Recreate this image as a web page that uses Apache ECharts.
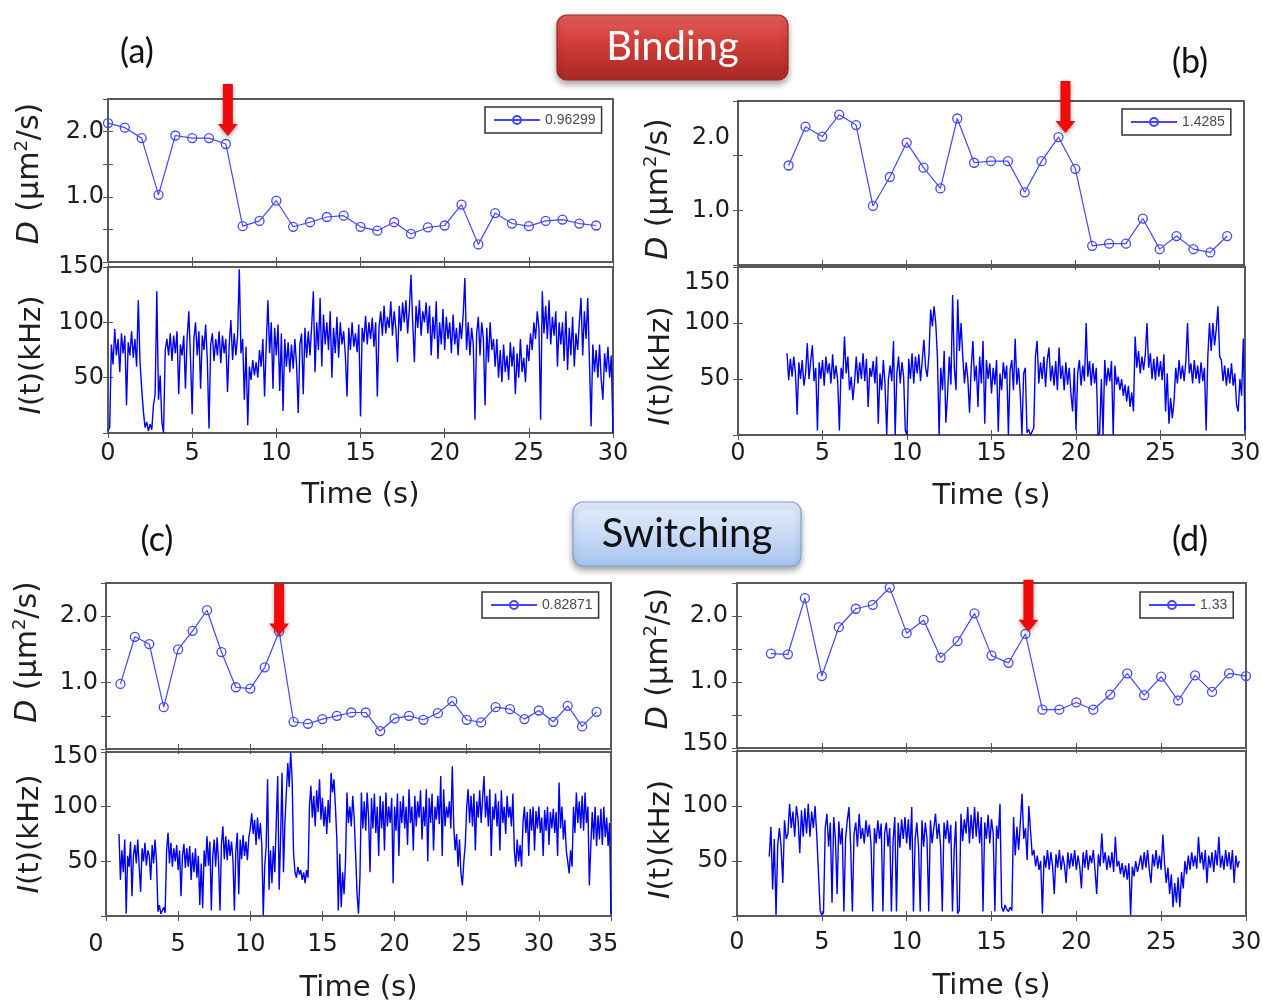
<!DOCTYPE html>
<html><head><meta charset="utf-8">
<script src="https://cdn.jsdelivr.net/npm/echarts@6/dist/echarts.min.js"></script>
<style>html,body{margin:0;padding:0;background:#fff}#c{width:1263px;height:1006px}</style>
</head><body><div id="c"></div>
<script>
// ---------- DATA ----------
// Diffusion coefficient D (um^2/s) per second
const dTimeA = [0,1,2,3,4,5,6,7,8,9,10,11,12,13,14,15,16,17,18,19,20,21,22,23,24,25,26,27,28,29];
const dValA = [2.13,2.06,1.90,1.03,1.94,1.90,1.90,1.81,0.55,0.63,0.94,0.54,0.61,0.69,0.71,0.54,0.48,0.61,0.43,0.53,0.56,0.88,0.27,0.75,0.59,0.55,0.63,0.65,0.59,0.56];
const dTimeB = [3,4,5,6,7,8,9,10,11,12,13,14,15,16,17,18,19,20,21,22,23,24,25,26,27,28,29];
const dValB = [1.82,2.53,2.35,2.75,2.56,1.08,1.61,2.24,1.78,1.40,2.68,1.87,1.90,1.90,1.33,1.90,2.34,1.76,0.35,0.39,0.39,0.85,0.29,0.53,0.29,0.23,0.53];
const dTimeC = [1,2,3,4,5,6,7,8,9,10,11,12,13,14,15,16,17,18,19,20,21,22,23,24,25,26,27,28,29,30,31,32,33,34];
const dValC = [0.98,1.69,1.58,0.63,1.50,1.78,2.09,1.46,0.93,0.91,1.23,1.77,0.41,0.38,0.45,0.50,0.55,0.55,0.27,0.46,0.50,0.44,0.54,0.72,0.44,0.40,0.63,0.60,0.45,0.58,0.41,0.65,0.34,0.56];
const dTimeD = [2,3,4,5,6,7,8,9,10,11,12,13,14,15,16,17,18,19,20,21,22,23,24,25,26,27,28,29,30];
const dValD = [1.43,1.42,2.27,1.09,1.83,2.11,2.17,2.43,1.74,1.94,1.37,1.62,2.04,1.40,1.29,1.73,0.58,0.58,0.69,0.58,0.81,1.13,0.80,1.08,0.72,1.10,0.85,1.13,1.09];

// legend labels (mean D)
const legendA = '0.96299', legendB = '1.4285', legendC = '0.82871', legendD = '1.33';
// time of the red arrow (s)
const arrowTimeA = 7, arrowTimeB = 19, arrowTimeC = 12, arrowTimeD = 17;

// Intensity traces I(t) in kHz, sampled every 0.1 s from the given start time
const iStartA = 0.0, iStartB = 2.9, iStartC = 0.9, iStartD = 1.9, iStep = 0.1;
const iValA = [2,5,80,62,94,70,85,55,90,72,
88,25,82,70,92,68,85,60,120,65,
40,20,5,10,2,8,3,25,35,128,
30,52,10,0,75,85,70,90,65,88,
72,92,35,80,70,88,40,85,110,68,
17,85,100,70,92,40,88,75,98,66,
4,80,90,65,85,70,92,63,88,72,
85,37,80,102,66,90,70,88,148,72,
85,30,78,7,60,48,66,52,64,50,
75,60,85,33,80,120,72,100,40,95,
70,98,38,90,20,85,60,82,55,80,
58,85,62,18,80,90,35,95,68,92,
70,97,128,55,100,75,122,60,107,80,
100,75,110,50,95,72,105,68,100,80,
92,70,33,95,75,100,78,90,73,98,
15,95,82,106,80,100,85,104,78,100,
33,95,110,88,115,90,105,95,119,88,
110,95,64,115,92,118,100,120,90,112,
143,100,64,115,95,120,88,110,100,118,
90,115,70,105,85,119,67,100,80,112,
75,105,85,100,72,107,80,95,70,100,
85,107,140,75,100,70,95,80,12,90,
105,70,100,85,25,95,64,100,75,85,
60,85,50,75,46,80,55,70,48,82,
60,78,35,72,50,85,55,68,46,80,
65,90,75,100,85,110,95,12,128,90,
115,85,120,80,105,88,110,60,100,80,
100,65,110,57,95,70,105,60,90,75,
100,122,70,110,85,122,65,6,80,55,
75,50,80,48,30,72,55,78,50,70,
0];
const iValB = [73,
49,68,52,70,55,18,65,50,67,44,
55,82,50,66,80,48,60,4,65,50,
67,44,70,55,64,46,72,50,62,48,
4,60,50,88,55,70,40,52,31,48,
70,46,65,50,73,48,68,25,60,52,
66,46,70,10,55,40,67,45,0,50,
62,48,84,0,55,70,46,65,52,4,
0,68,50,73,46,70,55,72,48,66,
85,60,52,72,112,97,115,100,70,0,
60,40,75,11,36,70,45,125,60,40,
121,75,100,70,46,65,50,20,60,84,
48,62,25,70,46,84,10,67,50,64,
37,60,45,67,3,55,40,65,50,62,
0,58,67,40,86,45,60,37,0,55,
60,2,5,0,3,6,70,84,46,65,
50,70,43,67,78,48,62,44,66,40,
78,50,62,40,65,45,60,37,21,60,
4,55,67,44,62,48,100,52,66,44,
64,46,60,0,2,50,0,67,44,60,
48,66,0,62,45,52,40,50,35,45,
30,44,25,38,21,88,60,75,55,70,
58,72,100,60,73,50,68,49,70,52,
66,49,72,21,55,10,33,15,30,60,
46,67,50,62,48,66,100,55,64,46,
67,50,62,46,65,48,60,4,70,100,
75,100,80,95,115,70,67,48,62,44,
60,46,64,44,55,27,21,50,35,86,
4];
const iValC = [75,
33,60,40,70,2,55,45,68,18,55,
65,48,70,45,22,62,50,67,46,60,
55,33,65,48,70,50,4,10,2,5,
8,3,60,76,48,67,45,62,50,65,
42,60,18,55,66,44,62,45,64,33,
58,40,62,35,55,10,48,7,60,45,
73,46,68,5,55,70,45,72,50,5,
65,82,52,73,51,70,55,68,51,5,
60,76,20,70,52,74,55,68,51,72,
80,94,75,88,65,90,70,85,64,1,
45,64,125,24,60,30,64,40,85,128,
24,70,131,40,85,113,140,118,150,125,
57,40,35,45,38,42,33,40,30,42,
35,100,119,90,110,82,115,95,125,88,
108,82,100,75,106,85,131,113,125,100,
70,5,57,8,40,20,50,113,85,100,
82,110,90,57,20,2,35,113,80,105,
78,113,90,40,108,80,112,76,100,55,
110,80,105,60,113,82,100,85,108,30,
100,78,112,55,105,85,110,80,100,65,
116,85,100,60,110,82,105,90,115,70,
100,82,116,50,108,85,112,60,100,88,
110,84,128,55,116,82,100,90,105,80,
137,82,60,75,45,70,39,28,50,65,
100,116,85,110,82,112,60,105,90,115,
85,108,128,90,110,82,116,55,100,88,
112,82,105,60,115,85,100,75,110,90,
100,82,112,60,45,70,50,65,45,85,
100,76,95,55,98,78,100,60,96,80,
100,76,90,55,97,78,100,65,95,80,
98,76,95,55,122,80,100,70,88,60,
50,39,60,45,100,76,113,85,105,80,
110,78,113,85,100,28,64,95,70,100,
64,92,70,98,65,100,72,90,64,85,
2];
const iValD = [54,
81,24,70,1,65,80,63,30,87,70,
75,102,80,95,72,100,88,57,96,72,
98,75,102,72,95,80,100,74,40,5,
1,3,80,93,63,85,12,90,70,20,
86,65,80,4,70,87,99,63,4,75,
85,63,93,70,80,66,87,72,83,65,
4,80,66,87,70,84,4,75,85,63,
80,4,68,90,4,85,62,88,70,90,
66,88,60,99,4,70,85,63,4,87,
63,85,70,4,87,66,80,93,70,84,
63,4,85,70,87,66,83,4,60,86,
2,5,93,68,88,75,99,66,92,70,
99,72,95,66,90,4,85,70,92,66,
88,75,4,82,70,102,8,4,10,6,
4,8,5,90,55,81,60,85,111,70,
80,51,100,78,55,60,45,55,42,50,
2,55,44,60,42,58,45,20,56,44,
60,42,55,46,30,58,43,57,45,60,
42,55,45,25,58,44,60,42,55,48,
60,42,20,56,45,75,48,58,42,55,
44,58,40,72,45,50,38,48,35,46,
33,48,1,45,36,50,40,47,55,42,
58,44,60,42,30,56,45,60,43,55,
42,74,48,30,44,20,38,8,30,12,
35,8,40,25,50,38,55,42,58,45,
55,43,72,48,58,42,60,30,55,44,
58,40,60,46,72,44,55,42,60,45,
58,42,60,30,55,44,50];

// axis ranges / tick labels
const xMaxes = [30, 30, 35, 30];
const dAxisMax = [2.5, 3, 2.5, 2.5];
const dAxisInterval = [0.5, 1, 0.5, 0.5];
const dTickLabels = ['1.0', '2.0'];
const iAxisMax = 150, iAxisInterval = 50;

// ---------- LAYOUT / STYLE ----------
const FONT = 'DejaVu Sans';
const TXT = '#1e1e1e';
const BLUE_D = '#4646ff';
const BLUE_I = '#0000f0';
const ARROW = 'path://M5,0 L15,0 L15,40 L20,40 L10,52 L0,40 L5,40 Z';

const panels = [
  { dT: dTimeA, dV: dValA, iT0: iStartA, iV: iValA, name: legendA, arrowT: arrowTimeA,
    gD: {left:108, top:99, width:505, height:163}, gI: {left:108, top:267, width:505, height:166},
    xLabelMargin: 9, xNameGap: 48, yLabelMargin: 4, yNameGap: 61,
    namePadD: [0,0,0,14], namePadI: [0,10,0,0],
    legend: {left:485, top:107}, arrowOff: [2, -34], d2Pad: null, i150Pad: null, xPad: {} },
  { dT: dTimeB, dV: dValB, iT0: iStartB, iV: iValB, name: legendB, arrowT: arrowTimeB,
    gD: {left:738, top:101, width:506, height:164}, gI: {left:738, top:267, width:507, height:168},
    xLabelMargin: 7, xNameGap: 47, yLabelMargin: 8, yNameGap: 62,
    namePadD: [0,12,0,0], namePadI: [0,30,0,0],
    legend: {left:1122, top:109}, arrowOff: [7, -30], d2Pad: [0,0,36,0], i150Pad: [32,0,0,0], xPad: {} },
  { dT: dTimeC, dV: dValC, iT0: iStartC, iV: iValC, name: legendC, arrowT: arrowTimeC,
    gD: {left:106, top:583, width:505, height:166}, gI: {left:106, top:752, width:505, height:164},
    xLabelMargin: 17, xNameGap: 58, yLabelMargin: 8, yNameGap: 61,
    namePadD: [0,0,0,28], namePadI: [0,0,0,0],
    legend: {left:482, top:592}, arrowOff: [0, -22], d2Pad: null, i150Pad: [10,0,0,0],
    xPad: {0: [0,20,0,0], 35: [0,16,10,0]} },
  { dT: dTimeD, dV: dValD, iT0: iStartD, iV: iValD, name: legendD, arrowT: arrowTimeD,
    gD: {left:737, top:583, width:509, height:165}, gI: {left:737, top:751, width:509, height:165},
    xLabelMargin: 15, xNameGap: 56, yLabelMargin: 9, yNameGap: 61,
    namePadD: [0,0,0,14], namePadI: [0,12,0,0],
    legend: {left:1140, top:592}, arrowOff: [3, -28], d2Pad: null, i150Pad: [0,0,14,0], xPad: {} }
];

const labelStyle = {fontSize: 24, fontFamily: FONT, color: TXT};
const tickStyle = {show: true, inside: true, length: 5, lineStyle: {color: '#555', width: 1}};

const grids = [], xAxes = [], yAxes = [], series = [], legends = [];

panels.forEach((p, k) => {
  [['D', p.gD], ['I', p.gI]].forEach(([kind, g]) => {
    const gi = grids.length;
    grids.push(Object.assign({show: true, borderColor: '#5a5a5a', borderWidth: 2,
      backgroundColor: 'rgba(0,0,0,0)', containLabel: false, outerBoundsMode: 'none'}, g));
    const isI = kind === 'I';
    ['bottom', 'top'].forEach(pos => {
      const withLabels = isI && pos === 'bottom';
      const rich = {};
      Object.keys(p.xPad).forEach(v => { rich['p' + v] = Object.assign({}, labelStyle, {padding: p.xPad[v]}); });
      xAxes.push({
        type: 'value', gridIndex: gi, position: pos, min: 0, max: xMaxes[k], interval: 5,
        axisLine: {show: false}, axisTick: tickStyle, splitLine: {show: false},
        axisLabel: withLabels ? Object.assign({show: true, margin: p.xLabelMargin, rich: rich,
          formatter: v => (p.xPad[v] ? '{p' + v + '|' + v + '}' : String(v))}, labelStyle) : {show: false},
        name: withLabels ? 'Time (s)' : '', nameLocation: 'middle', nameGap: p.xNameGap,
        nameTextStyle: {fontSize: 29, fontFamily: FONT, color: TXT}
      });
    });
    ['left', 'right'].forEach(pos => {
      const withLabels = pos === 'left';
      let ax;
      if (!isI) {
        ax = {
          type: 'value', gridIndex: gi, position: pos, min: 0, max: dAxisMax[k], interval: dAxisInterval[k],
          axisLine: {show: false}, axisTick: tickStyle, splitLine: {show: false},
          axisLabel: withLabels ? Object.assign({show: true, margin: p.yLabelMargin,
            rich: {up: Object.assign({}, labelStyle, {padding: p.d2Pad || [0,0,0,0]})},
            formatter: v => {
              if (Math.abs(v - 1) < 1e-9) return dTickLabels[0];
              if (Math.abs(v - 2) < 1e-9) return p.d2Pad ? '{up|' + dTickLabels[1] + '}' : dTickLabels[1];
              return '';
            }}, labelStyle) : {show: false},
          name: withLabels ? '{i|D} (µm{sup|2}/s)' : '', nameLocation: 'middle', nameGap: p.yNameGap, nameRotate: 90,
          nameTextStyle: {fontSize: 30, fontFamily: FONT, color: TXT, padding: p.namePadD,
            rich: {i: {fontSize: 30, fontFamily: FONT, fontStyle: 'italic', color: TXT},
                   sup: {fontSize: 18, fontFamily: FONT, color: TXT, padding: [0,0,16,0]}}}
        };
      } else {
        ax = {
          type: 'value', gridIndex: gi, position: pos, min: 0, max: iAxisMax, interval: iAxisInterval,
          axisLine: {show: false}, axisTick: tickStyle, splitLine: {show: false},
          axisLabel: withLabels ? Object.assign({show: true, margin: p.yLabelMargin,
            rich: {s: Object.assign({}, labelStyle, {padding: p.i150Pad || [0,0,0,0]})},
            formatter: v => {
              if (v <= 0) return '';
              if (v === iAxisMax && p.i150Pad) return '{s|' + v + '}';
              return String(v);
            }}, labelStyle) : {show: false},
          name: withLabels ? '{i|I}(t)(kHz)' : '', nameLocation: 'middle', nameGap: p.yNameGap, nameRotate: 90,
          nameTextStyle: {fontSize: 29, fontFamily: FONT, color: TXT, padding: p.namePadI,
            rich: {i: {fontSize: 29, fontFamily: FONT, fontStyle: 'italic', color: TXT}}}
        };
      }
      yAxes.push(ax);
    });
    if (!isI) {
      const ai = p.dT.indexOf(p.arrowT);
      series.push({
        type: 'line', name: p.name, xAxisIndex: 2 * gi, yAxisIndex: 2 * gi,
        data: p.dT.map((t, j) => [t, p.dV[j]]),
        symbol: 'circle', symbolSize: 9, showSymbol: true,
        lineStyle: {color: BLUE_D, width: 1.2},
        itemStyle: {color: 'rgba(255,255,255,0)', borderColor: BLUE_D, borderWidth: 1.3},
        emphasis: {disabled: true}, z: 4,
        markPoint: {
          symbol: ARROW, symbolSize: [20, 52], symbolOffset: p.arrowOff, silent: true,
          itemStyle: {color: '#f00a0a', shadowBlur: 4, shadowColor: 'rgba(0,0,0,0.35)', shadowOffsetY: 2},
          label: {show: false},
          data: [{coord: [p.arrowT, p.dV[ai]]}]
        }
      });
      legends.push({
        data: [p.name], left: p.legend.left, top: p.legend.top, orient: 'horizontal',
        itemWidth: 46, itemHeight: 10, itemGap: 0, padding: [6, 6, 6, 8],
        borderColor: '#333', borderWidth: 1.5, backgroundColor: '#fff', borderRadius: 0,
        selectedMode: false, textStyle: {fontSize: 14, fontFamily: 'Liberation Sans', color: '#4a4a4a'}
      });
    } else {
      series.push({
        type: 'line', name: 'I' + k, xAxisIndex: 2 * gi, yAxisIndex: 2 * gi,
        data: p.iV.map((v, j) => [+(p.iT0 + j * iStep).toFixed(2), v]),
        showSymbol: false, symbol: 'none', sampling: null,
        lineStyle: {color: BLUE_I, width: 1.4}, emphasis: {disabled: true}, z: 3
      });
    }
  });
});

function button(x, y, w, h, stops, stroke, text, color) {
  return {
    type: 'group', z: 100, children: [
      {type: 'rect', shape: {x: x, y: y, width: w, height: h, r: 10},
        style: {fill: {type: 'linear', x: 0, y: 0, x2: 0, y2: 1, colorStops: stops},
          stroke: stroke, lineWidth: 1.2, shadowBlur: 6, shadowOffsetY: 4, shadowColor: 'rgba(0,0,0,0.35)'}},
      {type: 'text', x: x + w / 2, y: y + h / 2,
        style: {text: text, fill: color, fontSize: 40, fontFamily: 'Lato', align: 'center', verticalAlign: 'middle'}}
    ]
  };
}
function panelLabel(x, y, t) {
  return {type: 'text', x: x, y: y, z: 100,
    style: {text: t, fill: '#111', fontSize: 34, fontFamily: 'Lato', align: 'center', verticalAlign: 'middle'}};
}

const option = {
  animation: false,
  backgroundColor: '#fff',
  grid: grids, xAxis: xAxes, yAxis: yAxes, series: series, legend: legends,
  graphic: [
    button(557, 15, 231, 65, [{offset: 0, color: '#e4605b'}, {offset: 0.45, color: '#cf3c37'}, {offset: 1, color: '#a92824'}], '#9b2724', 'Binding', '#ffffff'),
    button(573, 502, 228, 64, [{offset: 0, color: '#e6eefc'}, {offset: 0.5, color: '#c9dbf6'}, {offset: 1, color: '#a5c3ee'}], '#7fa3d6', 'Switching', '#111111'),
    panelLabel(137, 52, '(a)'), panelLabel(1190, 62, '(b)'),
    panelLabel(157, 540, '(c)'), panelLabel(1190, 540, '(d)')
  ]
};
const chart = echarts.init(document.getElementById('c'), null, {renderer: 'canvas'});
chart.setOption(option);
</script>
</body></html>
